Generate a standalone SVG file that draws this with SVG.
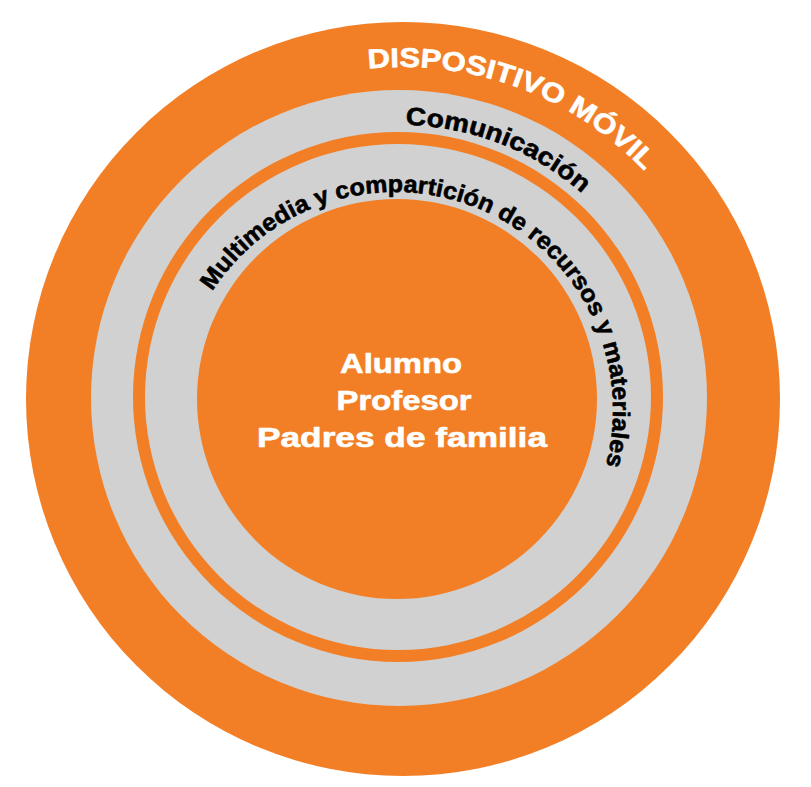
<svg xmlns="http://www.w3.org/2000/svg" xmlns:xlink="http://www.w3.org/1999/xlink" width="811" height="787" viewBox="0 0 811 787">
<style>
.or{fill:#F27F26}
.gr{fill:#D1D1D1}
.t{font-family:"Liberation Sans",Arial,sans-serif;font-weight:bold;stroke-width:0.6;stroke-linejoin:round}
.w{fill:#FFFFFF;stroke:#FFFFFF}
.k{fill:#000000;stroke:#000000}
</style>
<defs>
<path id="p1" d="M368.3,68.8 A332,332 0 0 1 690.5,565"/>
<path id="p2" d="M405.8,125 A273,273 0 0 1 637.4,534.5"/>
<path id="p3" d="M212.2,291.3 A218,218 0 1 1 320.4,614.9"/>
</defs>
<rect width="811" height="787" fill="#FFFFFF"/>
<g id="dispositivo-movil">
<circle class="or" cx="403" cy="399" r="377"/>
<text class="t w" font-size="27"><textPath xlink:href="#p1" href="#p1" textLength="305" lengthAdjust="spacingAndGlyphs">DISPOSITIVO MÓVIL</textPath></text>
</g>
<g id="comunicacion">
<circle class="gr" cx="399" cy="398" r="308"/>
<text class="t k" font-size="25"><textPath xlink:href="#p2" href="#p2" textLength="193" lengthAdjust="spacingAndGlyphs">Comunicación</textPath></text>
</g>
<g id="multimedia">
<circle class="or" cx="398" cy="397" r="265"/>
<circle class="gr" cx="398" cy="397" r="253"/>
<text class="t k" font-size="24"><textPath xlink:href="#p3" href="#p3" textLength="615" lengthAdjust="spacingAndGlyphs">Multimedia y compartición de recursos y materiales</textPath></text>
</g>
<g id="usuarios">
<circle class="or" cx="397" cy="399" r="200"/>
<text class="t w" font-size="28" text-anchor="middle" x="401" y="373" textLength="122" lengthAdjust="spacingAndGlyphs">Alumno</text>
<text class="t w" font-size="28" text-anchor="middle" x="404" y="410" textLength="135" lengthAdjust="spacingAndGlyphs">Profesor</text>
<text class="t w" font-size="28" text-anchor="middle" x="402" y="447" textLength="290" lengthAdjust="spacingAndGlyphs">Padres de familia</text>
</g>
</svg>
